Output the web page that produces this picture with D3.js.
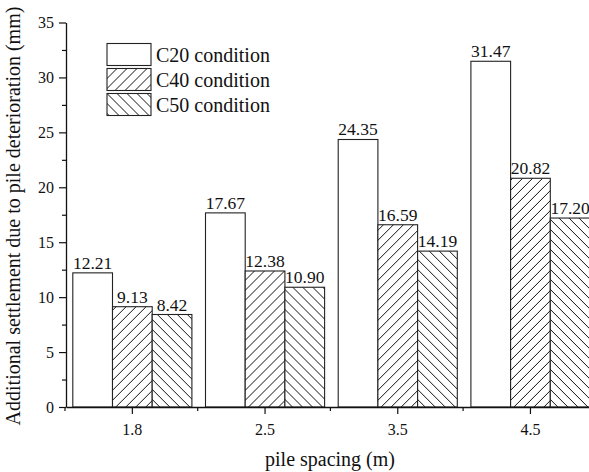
<!DOCTYPE html>
<html>
<head>
<meta charset="utf-8">
<script src="https://cdn.jsdelivr.net/npm/d3@7/dist/d3.min.js"></script>
<style>
  html, body { margin: 0; padding: 0; background: #fff; }
  svg text { font-family: "Liberation Serif", "Times New Roman", serif !important; }
</style>
</head>
<body>
<svg id="chart" width="589" height="472"></svg>
<script>
// Pile spacing groups and settlement per concrete grade (mm)
const spacings = ["1.8", "2.5", "3.5", "4.5"];
const conditions = ["C20 condition", "C40 condition", "C50 condition"];
const c20Values = [12.21, 17.67, 24.35, 31.47];
const c40Values = [9.13, 12.38, 16.59, 20.82];
const c50Values = [8.42, 10.90, 14.19, 17.20];
const yTicks = [0, 5, 10, 15, 20, 25, 30, 35];

const seriesValues = [c20Values, c40Values, c50Values];
const fills = ["#fff", "url(#hatchFwd)", "url(#hatchBack)"];

const svg = d3.select("#chart");
const plotLeft = 66, plotBottom = 407, plotTop = 22.5;
const bandW = 132.7;

const x = d3.scaleBand().domain(spacings).range([plotLeft, plotLeft + bandW * spacings.length]).padding(0);
const inner = d3.scaleBand().domain(d3.range(conditions.length)).range([0, 119.1]);
const groupOffset = (bandW - 119.1) / 2;
const y = d3.scaleLinear().domain([0, 35]).range([plotBottom, plotTop]);

// hatch patterns
const defs = svg.append("defs");
function hatch(id, forward) {
  const p = defs.append("pattern").attr("id", id)
    .attr("patternUnits", "userSpaceOnUse").attr("width", 10).attr("height", 10);
  p.append("rect").attr("width", 10).attr("height", 10).attr("fill", "#fff");
  const d = forward
    ? "M-1,1 L1,-1 M0,10 L10,0 M9,11 L11,9"
    : "M-1,9 L1,11 M0,0 L10,10 M9,-1 L11,1";
  p.append("path").attr("d", d).attr("stroke", "#111").attr("stroke-width", 1);
}
hatch("hatchFwd", true);
hatch("hatchBack", false);

// bars
const groups = svg.append("g").selectAll("g").data(spacings).join("g")
  .attr("transform", d => `translate(${x(d) + groupOffset},0)`);

conditions.forEach((c, si) => {
  groups.append("rect")
    .attr("x", (d, i) => inner(si))
    .attr("y", (d, i) => y(seriesValues[si][i]))
    .attr("width", inner.bandwidth())
    .attr("height", (d, i) => plotBottom - y(seriesValues[si][i]))
    .attr("fill", fills[si])
    .attr("stroke", "#222").attr("stroke-width", 1.1);
  groups.append("text")
    .attr("x", (d, i) => inner(si) + inner.bandwidth() / 2)
    .attr("y", (d, i) => y(seriesValues[si][i]) - 4)
    .attr("text-anchor", "middle")
    .attr("font-size", 17.5)
    .attr("fill", "#111")
    .text((d, i) => seriesValues[si][i].toFixed(2));
});

// y axis
const yAxis = svg.append("g").attr("transform", `translate(${plotLeft},0)`)
  .call(d3.axisLeft(y).tickValues(yTicks).tickSize(7).tickSizeOuter(0).tickPadding(5).tickFormat(d3.format("d")));
yAxis.selectAll("text").attr("font-size", 16).attr("fill", "#111");
yAxis.select(".domain").attr("stroke", "#111").attr("stroke-width", 1.3);
yAxis.selectAll(".tick line").attr("stroke", "#111").attr("stroke-width", 1.2);
svg.append("g").attr("transform", `translate(${plotLeft},0)`)
  .call(d3.axisLeft(y).tickValues(d3.range(2.5, 35, 5)).tickSize(4).tickFormat(""))
  .call(g => g.select(".domain").remove())
  .selectAll("line").attr("stroke", "#111").attr("stroke-width", 1.2);

// x axis
const xAxis = svg.append("g").attr("transform", `translate(0,${plotBottom})`)
  .call(d3.axisBottom(x).tickSize(7).tickSizeOuter(0).tickPadding(10));
xAxis.select(".domain").attr("stroke", "#111").attr("stroke-width", 1.3);
xAxis.selectAll(".tick line").attr("stroke", "#111").attr("stroke-width", 1.2);
xAxis.selectAll("text").attr("font-size", 16).attr("fill", "#111");
const boundaries = spacings.map(s => x(s)).concat([x.range()[1]]);
svg.append("g").selectAll("line").data(boundaries).join("line")
  .attr("x1", d => d - 1).attr("x2", d => d - 1)
  .attr("y1", plotBottom).attr("y2", plotBottom + 4)
  .attr("stroke", "#111").attr("stroke-width", 1.2);

// axis titles
svg.append("text")
  .attr("transform", `translate(20,216) rotate(-90)`)
  .attr("text-anchor", "middle").attr("font-size", 20).attr("fill", "#111")
  .text("Additional settlement due to pile deterioration (mm)");
svg.append("text")
  .attr("x", 330).attr("y", 466)
  .attr("text-anchor", "middle").attr("font-size", 20).attr("fill", "#111")
  .text("pile spacing (m)");

// legend
const legend = svg.append("g").attr("transform", "translate(107,43.5)");
const items = legend.selectAll("g").data(conditions).join("g")
  .attr("transform", (d, i) => `translate(0,${i * 25})`);
items.append("rect").attr("width", 44).attr("height", 22)
  .attr("fill", (d, i) => fills[i]).attr("stroke", "#222").attr("stroke-width", 1.1);
items.append("text").attr("x", 49).attr("y", 11).attr("dy", "0.35em")
  .attr("font-size", 20).attr("fill", "#111").text(d => d);
</script>
</body>
</html>
